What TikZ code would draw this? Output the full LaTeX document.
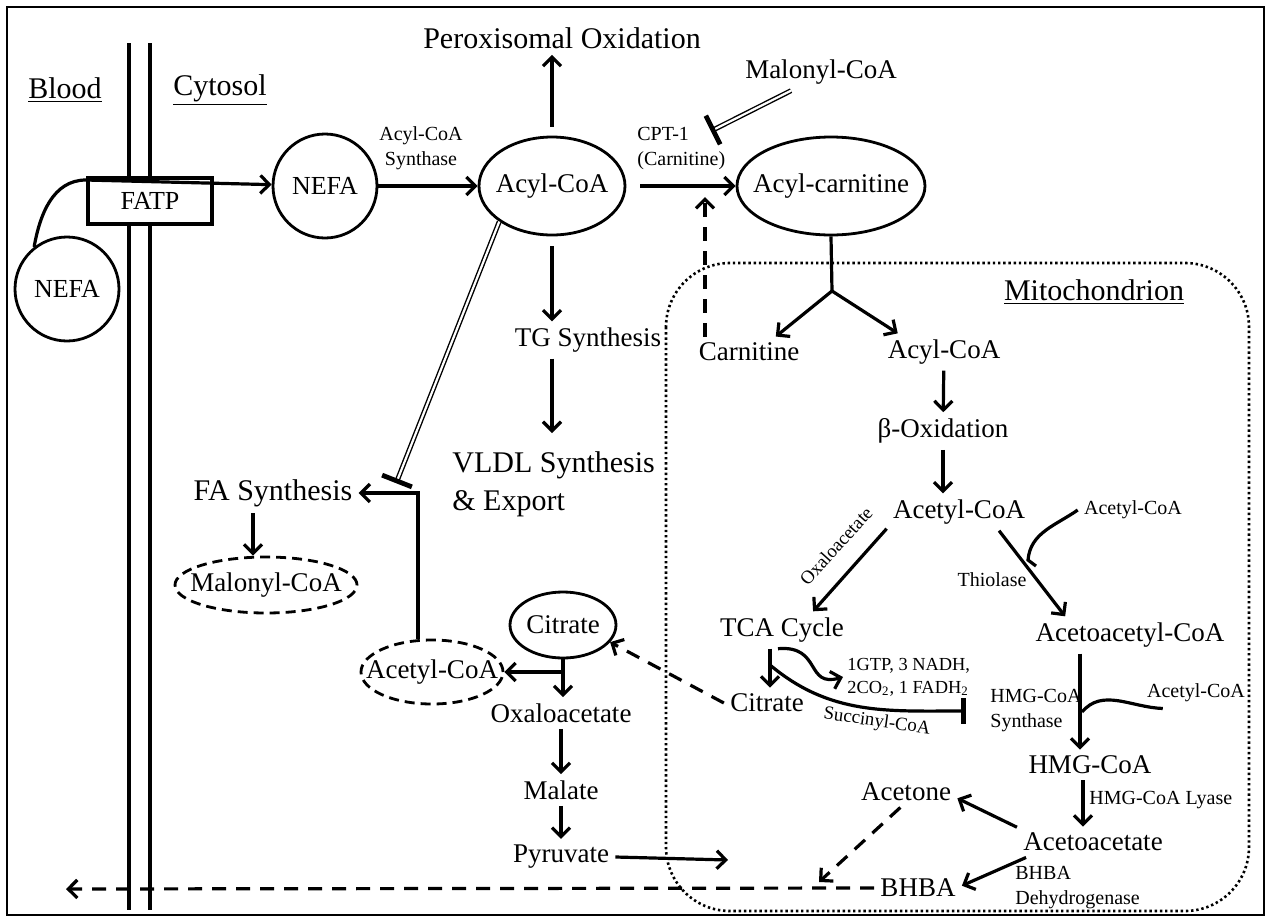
\documentclass[tikz,border=0pt]{standalone}
\usepackage{fontspec}
\setmainfont{Liberation Serif}
\usetikzlibrary{arrows.meta,calc,shapes.geometric}

\tikzset{
  big/.style={font=\fontsize{15}{19}\selectfont, inner sep=3pt},
  mid/.style={font=\fontsize{13.5}{16}\selectfont, inner sep=3pt},
  small/.style={font=\fontsize{10}{12.5}\selectfont, inner sep=3pt},
  tiny/.style={font=\fontsize{9.2}{11.5}\selectfont, inner sep=2pt},
  lab/.style={font=\fontsize{9.4}{11}\selectfont, inner sep=2pt},
  ln/.style={line width=1.6pt},
  arr/.style={ln, -{Straight Barb[length=4.5pt,width=9pt]}},
  dasharr/.style={arr, dash pattern=on 7pt off 5pt},
  solidell/.style={mid, draw, ellipse, line width=1.4pt, inner sep=-8pt},
  dashell/.style={solidell, dash pattern=on 5pt off 3pt},
  circ/.style={solidell, circle, font=\fontsize{13}{15}\selectfont},
  inhib/.style={double, double distance=1.1pt, line width=0.7pt},
  barend/.style={line width=2.4pt},
}

\begin{document}
\begin{tikzpicture}[x=0.5pt,y=-0.5pt]
\useasboundingbox (0,0) rectangle (1271,922);
\draw[line width=1pt] (7,7) rectangle (1264,915);
\draw[line width=1.3pt, dash pattern=on 1.2pt off 1.4pt, rounded corners=32pt] (666,263) rectangle (1249,911);
\draw[line width=2.2pt] (129,43) -- (129,910);
\draw[line width=2.2pt] (150,43) -- (150,910);

\node[big] (blood) at (65,90) {\underline{Blood}};
\node[big] (cyto) at (220,90) {\underline{Cytosol}};
\node[big] (mitolab) at (1094,292) {\underline{Mitochondrion}};

\node[draw, line width=2pt, fill=white, minimum width=62pt, minimum height=23pt, inner sep=0pt, font=\fontsize{13}{15}\selectfont] (fatp) at (150,201) {FATP};
\node[circ, minimum size=52pt] (nefab) at (67,289) {NEFA};
\node[circ, minimum size=52pt] (nefac) at (325,186) {NEFA};
\node[solidell, minimum width=73pt, minimum height=49pt] (acyl) at (552,186) {Acyl-CoA};
\node[solidell, minimum width=94pt, minimum height=49pt] (acarn) at (831,186) {Acyl-carnitine};
\node[small, align=center] (acs) at (421,148) {Acyl-CoA\\Synthase};
\node[small, align=left, anchor=west] (cpt) at (631,149) {CPT-1\\(Carnitine)};
\node[big] (perox) at (562,38) {Peroxisomal Oxidation};
\node[mid] (malt) at (821,72) {Malonyl-CoA};
\node[mid] (tg) at (588,340) {TG Synthesis};
\node[big, align=left, anchor=west] (vldl) at (446,484) {VLDL Synthesis\\\& Export};
\node[big] (fas) at (273,493) {FA Synthesis};
\node[dashell, minimum width=91pt, minimum height=28pt] (malc) at (266,585) {Malonyl-CoA};
\node[dashell, minimum width=71pt, minimum height=32pt] (acc) at (432,672) {Acetyl-CoA};
\node[solidell, minimum width=53pt, minimum height=33pt] (citr) at (563,625) {Citrate};
\node[mid] (oaa) at (561,713) {Oxaloacetate};
\node[mid] (mal) at (561,790) {Malate};
\node[mid] (pyr) at (561,857) {Pyruvate};

\node[mid] (carn) at (749,352) {Carnitine};
\node[mid] (acm) at (944,352) {Acyl-CoA};
\node[mid] (bo) at (943,431) {β-Oxidation};
\node[mid] (ac) at (959,512) {Acetyl-CoA};
\node[small] (act2) at (1133,510) {Acetyl-CoA};
\node[small] (thio) at (992,580) {Thiolase};
\node[lab, rotate=48] (oxlab) at (836,546) {Oxaloacetate};
\node[mid] (tca) at (782,630) {TCA Cycle};
\node[mid] (acto) at (1130,635) {Acetoacetyl-CoA};
\node[tiny, align=left, anchor=west] (atp) at (843,677) {1GTP, 3 NADH,\\2CO\textsubscript{2}, 1 FADH\textsubscript{2}};
\node[mid] (citm) at (767,703) {Citrate};
\node[small, align=left, anchor=west] (hmgs) at (984,711) {HMG-CoA\\Synthase};
\node[small] (act3) at (1196,693) {Acetyl-CoA};
\node[lab, rotate=-8] (succ) at (877,722) {Succinyl-CoA};
\node[mid] (hmg) at (1090,765) {HMG-CoA};
\node[small, anchor=west] (lyase) at (1083,800) {HMG-CoA Lyase};
\node[mid] (acet) at (906,792) {Acetone};
\node[mid] (acac) at (1093,842) {Acetoacetate};
\node[mid] (bhba) at (918,888) {BHBA};
\node[small, align=left, anchor=west] (bdh) at (1009,888) {BHBA\\Dehydrogenase};

\coordinate (fabar) at (397,481);
\coordinate (cptbar) at (713,130);
\coordinate (cptdash) at (705,197);
\coordinate (ysplit) at (832,291);
\coordinate (thj) at (1028,560);
\coordinate (sucst) at (770,665);
\coordinate (sucbar) at (966,711);
\coordinate (hmj) at (1082,712);
\coordinate (ketj) at (819,882);
\coordinate (pyrin) at (728,860);
\coordinate (bldout) at (66,889);
\coordinate (malfoot) at ([xshift=-15pt]malt.south);

\draw[arr] (nefab.128) to[out=80,in=180] ([yshift=-2pt]fatp.north west) -- (nefac);
\draw[arr] (nefac) -- (acyl);
\draw[arr, shorten <=4.5pt] (acyl.north) -- (acyl.north |- perox.south);
\draw[arr, shorten <=5pt] (acyl.south) -- (acyl.south |- tg.north);
\draw[arr, shorten >=6pt] (acyl.south |- tg.south) -- (acyl.south |- vldl.north);
\draw[inhib] (acyl.214) -- (fabar);
\draw[barend] ($(fabar)!8pt!90:(acyl.214)$) -- ($(fabar)!8pt!-90:(acyl.214)$);
\draw[arr] ([xshift=-7pt]acc.north) |- (fas.east);
\draw[arr] ([xshift=-10pt]fas.south) -- ([xshift=-10pt]fas.south |- malc.north);
\draw[arr] (citr.south) -- (citr.south |- oaa.north);
\draw[arr] (citr.south |- acc.east) -- (acc.east);
\draw[arr] (oaa) -- (mal);
\draw[arr] (mal) -- (pyr);
\draw[arr] (pyr.east) -- (pyrin);

\draw[arr, shorten <=7pt] (acyl) -- (acarn);
\draw[inhib] (malfoot) -- (cptbar);
\draw[barend] ($(cptbar)!8pt!90:(malfoot)$) -- ($(cptbar)!8pt!-90:(malfoot)$);
\draw[dasharr] (carn.north -| cptdash) -- (cptdash);
\draw[ln] (acarn.south) -- (ysplit);
\draw[arr] (ysplit) -- (carn.30);
\draw[arr] (ysplit) -- (acm.158);
\draw[arr] (acm) -- (bo);
\draw[arr] (bo.south) -- (bo.south |- ac.north);
\draw[arr] (ac.193) -- (tca.31);
\draw[arr] (ac.-25) -- ([xshift=18pt]acto.north west);
\draw[ln] (act2.west) to[out=215,in=85] (thj) -- ++(4pt,-3pt);
\draw[arr] ([xshift=-6pt]tca.south) -- ([xshift=-6pt]tca.south |- citm.north);
\draw[arr] ([xshift=-2pt]tca.south) .. controls (822,645) and (805,688) .. (atp.west);
\draw[ln, -{Bar[width=13pt, line width=2.6pt]}] (sucst) to[out=-40,in=180] (sucbar);
\draw[dasharr] (citm.west) -- (citr.-20);
\draw[arr] ([xshift=-25pt]acto.south) -- ([xshift=-25pt]acto.south |- hmg.north);
\draw[ln] (act3.205) to[out=178,in=50] (hmj);
\draw[arr] ([xshift=-3.5pt]hmg.south) -- ([xshift=-3.5pt]hmg.south |- acac.north);
\draw[arr] (acac.169) -- (acet.-7);
\draw[arr] (acac.193) -- (bhba.3);
\draw[dasharr] (acet.250) -- (ketj);
\draw[dasharr] (bhba.west) -- (bldout);
\end{tikzpicture}
\end{document}
